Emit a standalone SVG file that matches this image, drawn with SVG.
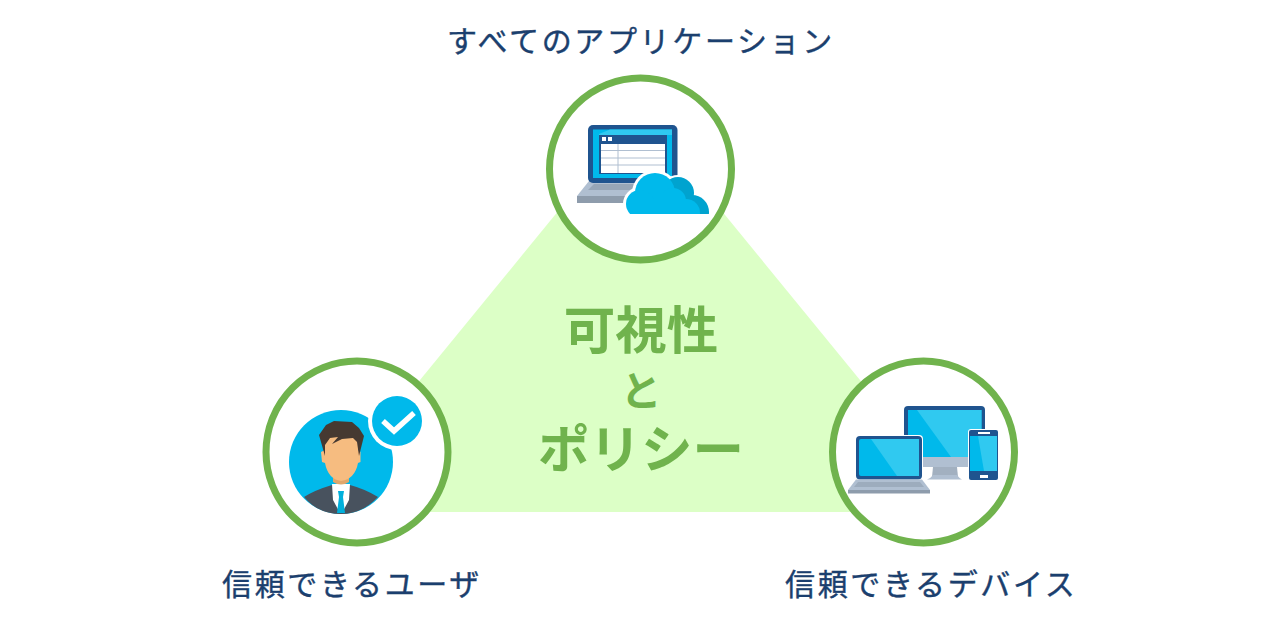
<svg xmlns="http://www.w3.org/2000/svg" width="1281" height="626" viewBox="0 0 1281 626">
<style>
.lbl{font-family:"Noto Sans CJK JP","Noto Sans",sans-serif;font-size:30px;font-weight:400;fill:#1b3f6e;stroke:#1b3f6e;stroke-width:.4;letter-spacing:2.65px}
.big{font-family:"Noto Sans CJK JP","Noto Sans",sans-serif;font-size:51.5px;font-weight:700;fill:#70b34d;text-anchor:middle}
.ring{fill:#fff;stroke:#70b34d;stroke-width:7}
.navy{fill:#1f548f}.cy{fill:#00b9eb}.lt{fill:#30c9f0}.gr{fill:#b0bfd1}.dg{fill:#8e9cac}
</style>
<defs>
<clipPath id="cloudClip"><rect x="620" y="165" width="95" height="49"/></clipPath>
<clipPath id="haloClip"><rect x="618" y="165" width="97" height="51"/></clipPath>
</defs>
<rect width="1281" height="626" fill="#fff"/>
<g id="connectors"><polygon points="640,111 312,512 968,512" fill="#dcffc6"/></g>
<g id="center-label">
<text class="big" x="641" y="349">可視性<tspan x="641" y="406" style="font-size:41px">と</tspan><tspan x="641" y="468">ポリシー</tspan></text>
</g>
<g id="node-apps">
<circle class="ring" cx="640.5" cy="169" r="91"/>
<polygon class="gr" points="589,181 677,181 685,196 577,196"/>
<polygon points="594,184 640,184 640,190 588,190" fill="#97a6b7"/>
<rect class="dg" x="577" y="196" width="70" height="7"/>
<rect class="navy" x="588" y="125" width="89.500" height="58" rx="5"/>
<rect class="cy" x="593" y="129.500" width="79" height="48.500"/>
<polygon class="lt" points="610,129.500 672,129.500 672,135 599,135 599,134" />
<rect class="navy" x="599" y="135" width="68" height="39"/>
<rect x="601" y="144" width="64" height="29" fill="#fff"/>
<path d="M601 150.500H665M601 158H665M601 165H665M618 144V173" stroke="#b0bfd1" stroke-width="1" fill="none"/>
<rect x="602" y="137" width="4" height="4" fill="#fff"/><rect x="608" y="137" width="4" height="4" fill="#fff"/>
<g clip-path="url(#haloClip)" fill="#fff">
<circle cx="655" cy="193" r="23"/><circle cx="640" cy="204" r="17"/><circle cx="678" cy="193" r="18"/><circle cx="692" cy="212" r="20"/><rect x="636" y="200" width="60" height="20"/>
</g>
<g clip-path="url(#cloudClip)">
<circle cx="678" cy="193" r="16" fill="#00a3cf"/><circle cx="692" cy="212" r="17" fill="#00a3cf"/>
<circle class="cy" cx="655" cy="193" r="20"/><circle class="cy" cx="640" cy="204" r="14"/><circle class="cy" cx="673" cy="201" r="13"/><circle class="cy" cx="686" cy="213" r="14"/><rect class="cy" x="636" y="200" width="50" height="16"/>
</g>
</g>
<g id="node-user">
<circle class="ring" cx="357" cy="452" r="91"/>
<circle class="cy" cx="341" cy="462" r="52"/>
<path d="M304 497Q315 490 332 485H350Q365 489 378 497Q362 514 341 514Q318 514 304 497Z" fill="#48525e"/>
<polygon points="332,484 350,484 349,500 342,513 340,513 333,500" fill="#fff"/>
<path d="M338 491H344L343 497L345 513H337L339 497Z" fill="#00b0dc"/>
<path d="M333 470H349V482Q341 487 333 482Z" fill="#e0a76c"/>
<path d="M321 452L325 450V430H358V450L360.500 452V462L358 463Q355 479 341 481Q328 479 325 463L322 462Z" fill="#f6bc80"/>
<path d="M325 456L319 435L326 425L334 421L352 422L359 428L364 436L359 456L357 442L353 438L342 439L332 444L338 437L330 438L325 445Z" fill="#463931"/>
<circle cx="397" cy="421" r="29" fill="#fff"/>
<circle class="cy" cx="397" cy="421" r="25"/>
<path d="M383 421L394 431L414 413" fill="none" stroke="#fff" stroke-width="5.500"/>
</g>
<g id="node-devices">
<circle class="ring" cx="923.5" cy="452" r="91"/>
<rect class="navy" x="904" y="406" width="81" height="60" rx="4"/>
<rect class="cy" x="908" y="410" width="73.500" height="47"/>
<polygon class="lt" points="917,410 981.500,410 981.500,457 951,457"/>
<rect class="gr" x="904" y="457" width="81" height="10"/>
<polygon points="933,467 957,467 958,477 932,477" fill="#a2b0c0"/>
<path d="M927 479.500Q931 478 933 475H957Q959 478 962 479.500Z" fill="#b0bfd1"/>
<rect x="855" y="435" width="68" height="45" rx="4" fill="#fff"/>
<rect class="navy" x="856" y="436" width="66" height="43.500" rx="4"/>
<rect class="cy" x="859" y="439" width="60" height="37" rx="2"/>
<polygon class="lt" points="871,439 919,439 919,476 897,476"/>
<polygon class="gr" points="856,479.500 922,479.500 930,490 848,490"/>
<polygon points="858,482 920,482 924,487 854,487" fill="#9dacbd"/>
<rect class="dg" x="848" y="490" width="82" height="3.500"/>
<rect x="968" y="429" width="31" height="52" rx="3" fill="#fff"/>
<rect class="navy" x="969" y="430" width="29" height="50" rx="2"/>
<rect class="cy" x="970" y="436" width="27" height="35"/>
<polygon class="lt" points="978,436 997,436 997,471 984,471"/>
<rect x="978" y="432" width="12" height="2" fill="#fff"/>
<rect x="980" y="475" width="8" height="3" fill="#fff"/>
</g>
<g id="labels">
<text class="lbl" x="447" y="52">すべてのアプリケーション</text>
<text class="lbl" x="222" y="595">信頼できるユーザ</text>
<text class="lbl" x="785" y="595">信頼できるデバイス</text>
</g>
</svg>
